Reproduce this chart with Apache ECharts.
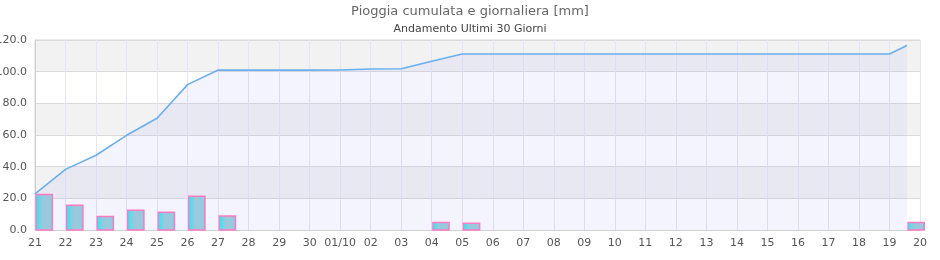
<!DOCTYPE html>
<html><head><meta charset="utf-8">
<script src="https://cdn.jsdelivr.net/npm/echarts@6/dist/echarts.min.js"></script>
<style>html,body{margin:0;padding:0;background:#fff}#c{width:940px;height:260px}</style>
</head><body><div id="c"></div>
<script>
// x tick labels (days 21 Sep .. 20 Oct)
const dayLabels = ['21','22','23','24','25','26','27','28','29','30','01/10','02','03','04','05','06','07','08','09','10','11','12','13','14','15','16','17','18','19','20'];
// position of each reading on the day axis (last reading is the current partial day)
const readingPos = [0,1,2,3,4,5,6,7,8,9,10,11,12,13,14,15,16,17,18,19,20,21,22,23,24,25,26,27,28,28.57];
// cumulative rain [mm]
const cumulative = [22.8,38.3,47.2,59.8,70.6,91.8,101.0,101.0,101.0,101.0,101.1,101.7,101.8,106.6,111.2,111.2,111.2,111.2,111.2,111.2,111.2,111.2,111.2,111.2,111.2,111.2,111.2,111.2,111.2,116.5];
// daily rain [mm]
const daily = [22.5,15.6,8.6,12.4,11.2,21.3,8.8,0,0,0,0,0,0,4.8,4.2,0,0,0,0,0,0,0,0,0,0,0,0,0,0,4.8];
const yTicks = [0,20,40,60,80,100,120];

const font = 'DejaVu Sans';
const chart = echarts.init(document.getElementById('c'), null, {renderer:'canvas'});
const lineData = readingPos.map((x,i)=>[x, cumulative[i]]);
const barData = readingPos.map((x,i)=>[x, daily[i]]);
const barGrad = new echarts.graphic.LinearGradient(0,0,1,0,[
  {offset:0,color:'#10f4ff'},{offset:0.38,color:'#98c8dc'},{offset:0.82,color:'#98cade'},{offset:1,color:'#30eaff'}]);

chart.setOption({
  animation:false,
  title:{
    text:'Pioggia cumulata e giornaliera [mm]',
    subtext:'Andamento Ultimi 30 Giorni',
    left:'center', top:0, itemGap:6,
    textStyle:{fontFamily:font,fontSize:13,fontWeight:'normal',color:'#666'},
    subtextStyle:{fontFamily:font,fontSize:11,color:'#444'}
  },
  grid:{left:35,right:20,top:40,bottom:30,outerBoundsMode:'none',containLabel:false,
    show:true,borderColor:'#d4d4d4',borderWidth:1,backgroundColor:'transparent'},
  xAxis:{
    type:'value', min:0, max:dayLabels.length-1, interval:1,
    axisLine:{show:true,lineStyle:{color:'#cfcfcf'}},
    axisTick:{show:false},
    axisLabel:{fontFamily:font,fontSize:11,color:'#555',margin:8,
      formatter:v=>dayLabels[Math.round(v)]||''},
    splitLine:{show:true,lineStyle:{color:'#e4e4fa',width:1}}
  },
  yAxis:{
    type:'value', min:yTicks[0], max:yTicks[yTicks.length-1], interval:20,
    axisLine:{show:true,lineStyle:{color:'#cfcfcf'}},
    axisTick:{show:false},
    axisLabel:{fontFamily:font,fontSize:11,color:'#555',margin:8,formatter:v=>v.toFixed(1)},
    splitLine:{show:true,lineStyle:{color:'#dadada'}},
    splitArea:{show:true,areaStyle:{color:['#ffffff','#f2f2f2']}}
  },
  series:[
    {type:'line', data:lineData, symbol:'none', z:2,
     lineStyle:{color:'#6aaff0',width:1.6},
     areaStyle:{color:'rgba(180,180,250,0.2)'}},
    {type:'custom', data:barData, z:3, clip:false,
     renderItem:(params,api)=>{
       const x=api.value(0), v=api.value(1);
       if(!v) return null;
       const p0=api.coord([x,0]), p1=api.coord([x,v]);
       const w=api.size([0.53,0])[0];
       return {type:'rect',shape:{x:p0[0]+1.2,y:p1[1],width:w,height:p0[1]-p1[1]},
         style:{fill:barGrad,stroke:'#ff7ac0',lineWidth:1.5}};
     }}
  ]
});
</script></body></html>
